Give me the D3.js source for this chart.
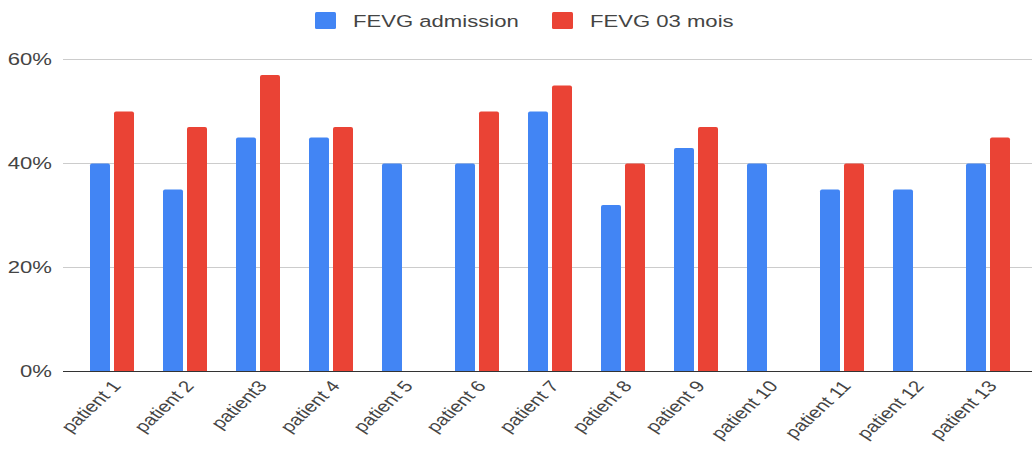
<html><head>
  <script src="https://d3js.org/d3.v7.min.js"></script>
  <style>
    body { margin: 0; background: #fff; }
    text { font-family: Arial, 'Liberation Sans', sans-serif; fill: #444; }
  </style>
</head>
<body>
  <script>
    // data
    const patients = ["patient 1", "patient 2", "patient3", "patient 4", "patient 5", "patient 6", "patient 7",
                      "patient 8", "patient 9", "patient 10", "patient 11", "patient 12", "patient 13"]
    const admission = [0.40, 0.35, 0.45, 0.45, 0.40, 0.40, 0.50, 0.32, 0.43, 0.40, 0.35, 0.35, 0.40]
    const mois03 = [0.50, 0.47, 0.57, 0.47, null, 0.50, 0.55, 0.40, 0.47, null, 0.40, null, 0.45]
    const seriesNames = ["FEVG admission", "FEVG 03 mois"]
    const colors = ["#4285F4", "#EA4335"]
    const yTicks = [0, 0.2, 0.4, 0.6]

    const width = 1032, height = 449
    const svg = d3.select("body").append("svg")
                  .attr("width", width)
                  .attr("height", height)

    // the picture is stretched sideways, so text is too
    const sx = 1.3

    const x0 = d3.scaleBand().domain(patients).range([75.5, 1024.5])
                 .paddingInner(29 / 73).paddingOuter(29 / 146)
    const x1 = d3.scaleBand().domain([0, 1]).range([0, x0.bandwidth()]).paddingInner(4 / 24)
    const y = d3.scaleLinear().domain([0, 0.6]).range([371.5, 59.5])

    // gridlines
    svg.append("g").selectAll("line").data(yTicks.filter(d => d > 0))
       .join("line")
       .attr("x1", 63).attr("x2", width)
       .attr("y1", d => y(d)).attr("y2", d => y(d))
       .attr("stroke", "#ccc").attr("stroke-width", 1)

    // y labels
    svg.append("g").selectAll("text").data(yTicks)
       .join("text")
       .attr("transform", d => `translate(52,${y(d)}) scale(${sx},1)`)
       .attr("text-anchor", "end")
       .attr("dy", "0.35em")
       .style("font-size", "17px")
       .text(d3.format(".0%"))

    // bars
    const rows = patients.map((p, i) => ({ p, vals: [admission[i], mois03[i]] }))
    const barPath = (x, yTop, w, yBase) => {
      const r = Math.min(2, (yBase - yTop) / 2)
      return `M${x},${yBase}V${yTop + r}Q${x},${yTop} ${x + r},${yTop}H${x + w - r}Q${x + w},${yTop} ${x + w},${yTop + r}V${yBase}Z`
    }
    svg.append("g").selectAll("g").data(rows)
       .join("g")
       .attr("transform", d => `translate(${x0(d.p)},0)`)
       .selectAll("path").data(d => d.vals.map((v, k) => ({ v, k })).filter(d => d.v != null))
       .join("path")
       .attr("d", d => barPath(x1(d.k), y(d.v), x1.bandwidth(), y(0)))
       .attr("fill", d => colors[d.k])

    // baseline
    svg.append("line")
       .attr("x1", 63).attr("x2", width)
       .attr("y1", y(0)).attr("y2", y(0))
       .attr("stroke", "#333").attr("stroke-width", 1.2)

    // x labels (rotated, then stretched like the rest of the picture)
    svg.append("g").selectAll("text").data(patients)
       .join("text")
       .attr("transform", d => `translate(${x0(d) + x0.bandwidth() / 2 + 10},${y(0) + 15}) scale(${sx},1) rotate(-50)`)
       .attr("text-anchor", "end")
       .style("font-size", "16px")
       .text(d => d)

    // legend
    const legendX = [315, 552]
    const legend = svg.append("g")
    seriesNames.forEach((name, k) => {
      legend.append("rect")
            .attr("x", legendX[k]).attr("y", 12)
            .attr("width", 21).attr("height", 17)
            .attr("rx", 1.5)
            .attr("fill", colors[k])
      legend.append("text")
            .attr("transform", `translate(${legendX[k] + 38},27) scale(${sx},1)`)
            .style("font-size", "17px")
            .text(name)
    })
  </script>
</body></html>
